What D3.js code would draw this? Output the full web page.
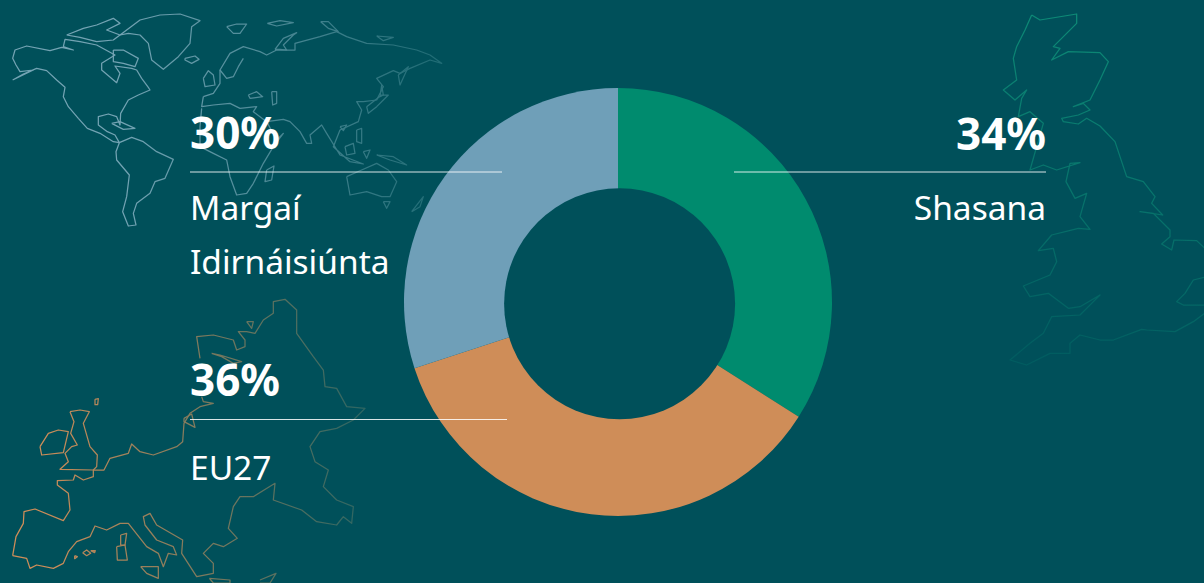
<!DOCTYPE html>
<html>
<head>
<meta charset="utf-8">
<script src="https://cdn.jsdelivr.net/npm/d3@7"></script>
<style>
  html, body { margin: 0; padding: 0; background: #00505a; overflow: hidden; }
  svg { display: block; }
  text { font-family: "Noto Sans", sans-serif; fill: #fff; }
</style>
</head>
<body>
<script>
// chart values
var categories = ["Shasana", "EU27", "Margaí Idirnáisiúnta"];
var shares = [34, 36, 30];
var sliceColors = ["#008b6e", "#cf8d58", "#6f9fb8"];

// background outlines, traced by eye at 3x from the top left of each map
var worldMap = [
  [[38,240],[70,222],[110,205],[140,212],[170,240],[195,262],[190,290],[205,320],[235,355],[262,385],[300,400],[340,425],[358,428],[345,405],[322,395],[295,375],[295,350],[325,342],[350,350],[360,375],[362,340],[385,300],[415,285],[450,270],[445,262],[425,235],[410,210],[395,205],[345,198],[360,220],[350,248],[305,210],[305,190],[345,165],[290,135],[240,125],[195,118],[190,140],[220,150],[185,142],[150,152],[80,138],[45,150],[38,175],[48,195],[60,215],[100,210],[38,240]],
  [[200,105],[250,85],[290,75],[340,55],[360,70],[320,90],[360,105],[340,120],[290,125],[240,112],[200,105]],
  [[340,150],[370,150],[415,175],[405,200],[370,190],[340,185],[340,150]],
  [[360,105],[420,60],[480,45],[540,42],[600,62],[575,80],[570,130],[535,170],[490,208],[455,180],[445,130],[420,105],[385,100],[360,105]],
  [[358,428],[395,412],[430,425],[470,455],[520,478],[495,535],[465,545],[450,580],[410,610],[400,640],[408,675],[385,678],[368,635],[380,590],[388,525],[350,480],[348,455],[358,428]],
  [[335,370],[360,365],[405,385],[370,388],[335,370]],
  [[555,175],[585,168],[597,178],[575,190],[555,180],[555,175]],
  [[680,80],[710,72],[740,72],[720,100],[700,100],[680,80]],
  [[802,70],[840,62],[880,68],[830,78],[802,70]],
  [[825,148],[850,115],[890,98],[880,105],[850,135],[860,150],[840,148],[825,148]],
  [[962,65],[985,65],[1015,95],[985,85],[962,65]],
  [[1130,108],[1180,112],[1150,122],[1130,108]],
  [[610,235],[625,212],[640,225],[645,255],[615,260],[610,235]],
  [[610,290],[640,280],[660,250],[660,210],[690,160],[730,140],[780,155],[800,165],[830,150],[885,150],[885,130],[960,110],[1010,95],[1040,110],[1100,130],[1180,135],[1250,150],[1290,165],[1325,190],[1290,180],[1230,205],[1200,220],[1180,212],[1130,235],[1150,260],[1130,300],[1090,305],[1070,305],[1085,330],[1075,365],[1020,390],[1000,440],[1050,485],[1090,492],[1020,465],[980,400],[965,375],[930,405],[935,430],[920,430],[900,395],[870,365],[850,358],[800,365]],
  [[730,175],[715,200],[700,230],[680,235],[660,210]],
  [[610,290],[605,320],[640,315],[690,310],[720,325],[770,320],[760,335],[800,365],[830,420],[850,400],[820,440],[790,490],[760,550],[740,580],[710,585],[690,530],[680,480],[640,460],[600,440],[600,380],[605,325]],
  [[745,285],[770,275],[788,290],[750,295],[745,285]],
  [[815,275],[830,275],[830,310],[818,315],[815,275]],
  [[800,510],[822,498],[815,540],[795,545],[800,510]],
  [[1040,530],[1085,510],[1130,490],[1165,510],[1190,545],[1170,590],[1145,590],[1100,575],[1050,585],[1040,530]],
  [[1150,605],[1170,605],[1160,625],[1150,605]],
  [[1235,635],[1270,590],[1260,620],[1235,635]],
  [[1100,320],[1145,285],[1165,285],[1130,320],[1105,340],[1100,320]],
  [[1145,255],[1150,285],[1140,290],[1145,255]],
  [[1195,225],[1225,200],[1200,255],[1195,225]],
  [[1070,390],[1085,385],[1085,430],[1070,425],[1070,390]],
  [[1035,440],[1060,430],[1065,460],[1040,465],[1035,440]],
  [[1090,455],[1110,450],[1100,475],[1090,455]],
  [[1130,465],[1180,470],[1220,495],[1170,480],[1130,465]],
  [[1020,380],[1040,375],[1030,392],[1020,380]]
];

var europeMap = [
  [[38,797],[48,740],[70,700],[72,665],[105,657],[190,692],[210,660],[205,610],[172,585],[172,572],[220,570],[225,555],[250,570],[280,560],[280,540],[312,540],[330,505],[385,490],[395,462],[420,485],[460,495],[530,470],[548,455],[552,400],[570,370],[600,350],[640,340],[610,335],[605,320]],
  [[600,205],[590,140],[640,135],[700,150],[710,180],[735,170],[735,150],[715,125],[740,125],[765,130],[790,90],[820,70],[820,35],[855,28],[890,60],[890,130],[940,200],[970,240],[975,290],[1010,295],[1040,350],[1095,355],[1060,390],[1010,415],[960,425],[930,470],[945,515],[985,540],[970,590],[1010,630],[1060,650],[1055,700],[1030,680],[1010,705],[950,695],[905,660],[820,630],[825,580],[760,620],[720,620],[700,650],[685,715],[712,745],[670,770],[640,760],[610,790],[640,820],[640,850],[590,860],[545,790],[548,750],[470,705],[450,670],[430,680],[435,705],[470,750],[520,770],[530,795],[505,790],[490,830],[475,790],[440,770],[385,700],[360,700],[320,720],[285,708],[270,740],[230,755],[205,785],[190,820],[160,835],[110,825],[90,835],[80,805],[38,797]],
  [[120,470],[145,430],[175,420],[205,425],[190,488],[125,495],[120,470]],
  [[210,365],[240,360],[268,365],[250,400],[270,470],[292,495],[290,530],[280,540],[180,538],[205,515],[195,490],[215,470],[232,465],[212,430],[222,395],[210,365]],
  [[350,770],[375,765],[382,810],[352,810],[350,770]],
  [[362,735],[380,730],[375,765],[362,765],[362,735]],
  [[422,830],[475,830],[475,865],[440,850],[422,830]],
  [[248,788],[260,780],[272,790],[260,797],[248,788]],
  [[272,782],[286,782],[284,788],[272,782]],
  [[224,797],[232,800],[224,806],[224,797]],
  [[285,328],[295,326],[293,344],[285,344],[285,328]],
  [[635,190],[660,195],[725,215],[700,220],[665,200],[635,190]],
  [[740,95],[760,95],[755,115],[740,95]],
  [[552,385],[575,372],[585,412],[552,395],[552,385]],
  [[628,865],[690,870],[690,879],[640,879],[628,865]],
  [[780,870],[828,850],[810,879],[780,879]]
];

var ukMap = [
  [[155,45],[180,60],[290,42],[290,70],[220,140],[240,145],[215,180],[265,155],[360,158],[385,185],[360,240],[330,300],[280,320],[310,310],[330,330],[295,345],[245,355],[250,365],[295,372],[320,355],[360,378],[405,425],[440,530],[490,545],[525,590],[515,610],[548,645],[480,635],[520,640],[570,690],[570,710],[545,732],[575,750],[582,720],[650,722],[680,750]],
  [[680,830],[640,840],[615,880],[590,905],[610,915],[680,915]],
  [[680,935],[640,965],[585,995],[500,990],[485,988],[400,1020],[360,1020],[300,1005],[270,1030],[270,1060],[210,1060],[140,1095],[90,1080],[150,1030],[190,1000],[215,950],[300,945],[320,925],[360,885],[300,920],[265,925],[205,880],[150,890],[130,858],[210,825],[230,785],[220,745],[175,752],[215,705],[295,685],[330,688],[300,650],[320,580],[285,595],[258,545],[270,490],[300,488],[230,510],[190,495],[150,510],[170,440],[190,370],[150,335],[115,350],[125,295],[140,270],[105,300],[70,270],[110,240],[100,175],[110,140],[135,90],[155,45]]
];

// set properties for the graph
var w = 1204;
var h = 583;
var cx = 618;
var cy = 302;
var outerR = 214;
var holeX = 619.6;
var holeY = 303.7;
var holeR = 115.5;

var svg = d3.select("body")
            .append("svg")
            .attr("width", w)
            .attr("height", h);

var defs = svg.append("defs");

// gradient so the maps fade out, like in the original
function fade(id, x1, y1, x2, y2, from, to) {
  var grad = defs.append("linearGradient")
                 .attr("id", id)
                 .attr("gradientUnits", "userSpaceOnUse")
                 .attr("x1", x1).attr("y1", y1)
                 .attr("x2", x2).attr("y2", y2);
  grad.append("stop").attr("offset", 0).attr("stop-color", from);
  grad.append("stop").attr("offset", 1).attr("stop-color", to);
}

fade("worldFade", 120, 0, 440, 0, "#73a3b3", "#1f6b74");
fade("europeFade", 40, 0, 360, 0, "#cf8d58", "#2f6662");
fade("ukFade", 1100, 20, 1040, 360, "#0d8a76", "#015c60");

function drawMap(shapes, dx, dy, stroke) {
  var line = d3.line()
               .x(function(d) { return dx + d[0] / 3; })
               .y(function(d) { return dy + d[1] / 3; });

  svg.append("g")
     .selectAll("path")
     .data(shapes)
     .enter()
     .append("path")
     .attr("d", line)
     .attr("fill", "none")
     .attr("stroke", stroke)
     .attr("stroke-width", 1.25)
     .attr("stroke-linejoin", "round");
}

drawMap(worldMap, 0, 0, "url(#worldFade)");
drawMap(europeMap, 0, 290, "url(#europeFade)");
drawMap(ukMap, 980, 0, "url(#ukFade)");

// draw the donut, the hole sits slightly off centre in the original
var pie = d3.pie().sort(null);
var arc = d3.arc().innerRadius(0).outerRadius(outerR);

svg.append("g")
   .attr("transform", "translate(" + cx + "," + cy + ")")
   .selectAll("path")
   .data(pie(shares))
   .enter()
   .append("path")
   .attr("d", arc)
   .attr("fill", function(d, i) { return sliceColors[i]; });

svg.append("circle")
   .attr("cx", holeX)
   .attr("cy", holeY)
   .attr("r", holeR)
   .attr("fill", "#00505a");

// labels: percentage, rule, name
var labels = [
  { i: 0, x: 1046, anchor: "end", y: 150, rule: [734, 1046], ruleY: 172, names: ["Shasana"], nameY: 220 },
  { i: 1, x: 190, anchor: "start", y: 396, rule: [190, 507], ruleY: 419.5, names: ["EU27"], nameY: 480 },
  { i: 2, x: 190, anchor: "start", y: 149, rule: [190, 502], ruleY: 172, names: ["Margaí", "Idirnáisiúnta"], nameY: 220 }
];

labels.forEach(function(l) {
  svg.append("line")
     .attr("x1", l.rule[0])
     .attr("x2", l.rule[1])
     .attr("y1", l.ruleY)
     .attr("y2", l.ruleY)
     .attr("stroke", "#fff")
     .attr("stroke-opacity", 0.85)
     .attr("stroke-width", 1);

  svg.append("text")
     .attr("x", l.x)
     .attr("y", l.y)
     .attr("text-anchor", l.anchor)
     .attr("font-size", 44)
     .attr("font-weight", 700)
     .text(shares[l.i] + "%");

  l.names.forEach(function(name, n) {
    svg.append("text")
       .attr("x", l.x)
       .attr("y", l.nameY + n * 54)
       .attr("text-anchor", l.anchor)
       .attr("font-size", 33.5)
       .attr("font-weight", 400)
       .text(name);
  });
});
</script>
</body>
</html>
